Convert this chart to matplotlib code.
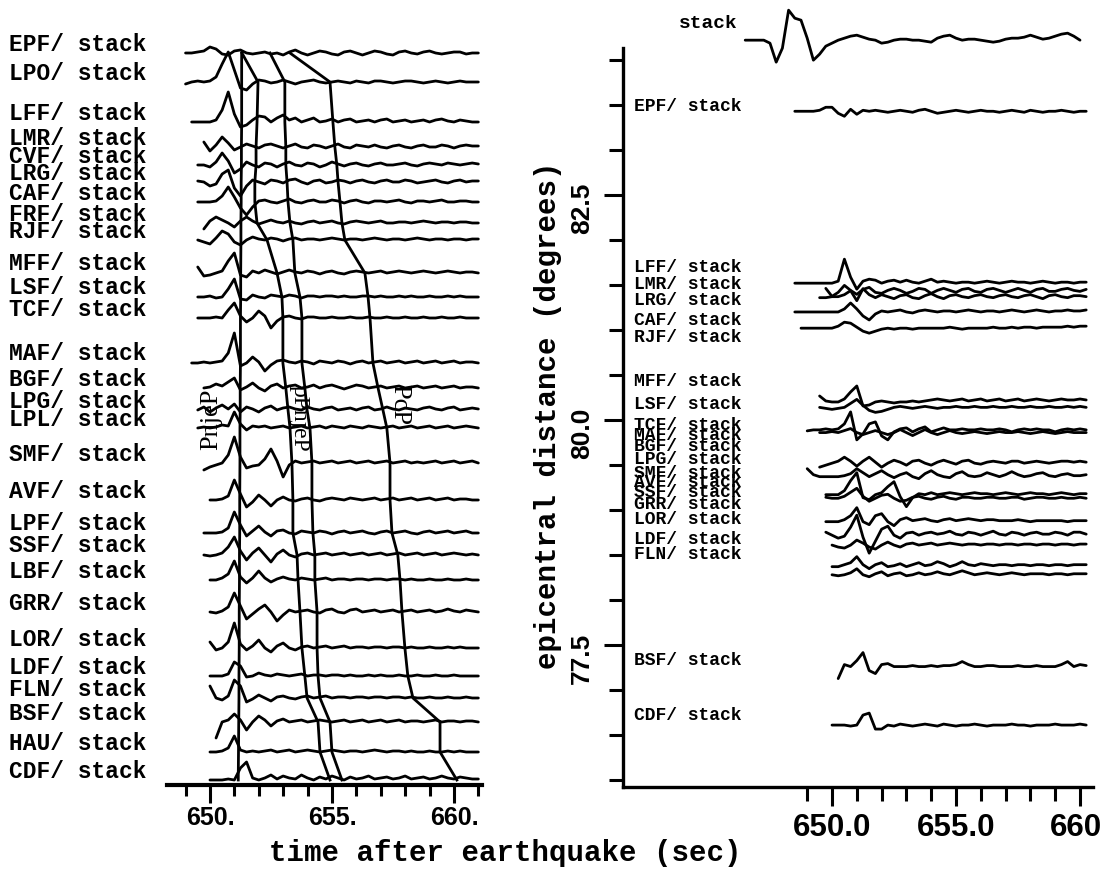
import numpy as np
import matplotlib
matplotlib.use("Agg")
import matplotlib.pyplot as plt
from matplotlib.ticker import FixedLocator
from matplotlib import transforms

DT = 0.25

# ---------------- LEFT PANEL (record section, one trace per station) ----------
left_stations = ["EPF", "LPO", "LFF", "LMR", "CVF", "LRG", "CAF", "FRF", "RJF",
                 "MFF", "LSF", "TCF", "MAF", "BGF", "LPG", "LPL", "SMF", "AVF",
                 "LPF", "SSF", "LBF", "GRR", "LOR", "LDF", "FLN", "BSF", "HAU", "CDF"]
# trace rows (vertical offset of each trace, top = small)
left_offset = [53, 82, 122, 147, 165, 182, 202, 223, 240, 273, 297, 318, 363, 388,
               410, 428, 463, 500, 533, 555, 580, 612, 648, 676, 698, 722, 752, 780]
# start time of each trace (s)
left_t0 = [649.0, 649.0, 649.25, 649.75, 649.5, 649.5, 649.5, 649.75, 649.5, 649.5,
           649.5, 649.5, 649.25, 649.75, 649.5, 649.5, 649.75, 650.0, 649.75, 649.75,
           650.0, 650.0, 650.0, 650.0, 650.0, 650.25, 650.0, 650.0]

L_EPF = [0, 0, 1, 2, 6, 4, -1, -2, 2, 3, 0, -1, 0, 1, -1, 0, -2, 1, 3, 0, -2, 0, 2, 1,
         -1, -2, 1, 2, 0, -2, 0, 2, 1, -1, -2, 1, 2, 0, -1, 1, 2, 0, -1, 0, 1, 1, -1, 0, 0]
L_LPO = [-2, 0, 1, 0, 1, 5, 18, 30, 12, -6, -8, -2, 2, 1, -1, 0, 2, 0, -2, 0, 1, 2, 0, -1,
         0, 1, 0, -1, 1, 0, -1, 1, 1, 0, -1, 0, 1, 1, 0, -1, 0, 1, 0, -1, 0, 1, 0, 0, 0]
L_LFF = [0, 0, 0, 0, 2, 12, 30, 8, -5, -3, 2, 6, 5, 0, 4, 7, 2, 4, 0, 2, 4, 0, 1,
         3, 0, 2, 3, 0, 1, 2, 0, 2, 3, 0, 1, 2, 0, 1, 2, 0, 2, 3, 1, 0, 2, 1, 0, 0]
L_LMR = [5, -4, 2, 10, 4, -3, 0, 3, 1, -1, 2, 3, 1, -1, 1, 3, 0, -1, 2, 1, -1, 1, 3, 0,
         -1, 2, 1, 0, 2, 0, -1, 1, 2, 0, -1, 1, 2, 0, 0, 2, 1, -1, 1, 2, 1, 1]
L_CVF = [0, 0, -2, 3, 12, 4, -8, -4, 3, 0, -2, 2, 1, -2, 1, 3, 0, -1, 2, 1, -2, 0, 3, 1,
         -1, 1, 2, 0, -1, 1, 2, 0, 0, 1, 2, 0, -1, 1, 2, 1, 0, 2, 1, 0, 1, 2, 1]
L_LRG = [1, 0, -4, -2, 8, 12, -6, -14, -4, 2, 0, -2, 2, 1, -1, 2, 3, 0, -2, 1, 2, -1, 0, 2,
         1, -1, 1, 2, 0, -1, 1, 2, 0, 0, 2, 1, -1, 0, 1, 2, 0, -1, 1, 2, 0, 1, 1]
L_CAF = [0, 0, 0, 1, 6, 15, 5, -6, -13, -5, 1, 2, 0, -1, 1, 3, 0, -1, 1, 2, 0, 0, 2, 1,
         -1, 1, 2, 0, -1, 1, 1, 0, 1, 2, 0, -1, 1, 1, 0, 1, 2, 0, 0, 1, 1, 0, 0]
L_FRF = [-6, 2, 6, 3, 0, -4, 2, 6, 2, -1, 1, 3, 1, 0, 2, 0, -1, 1, 2, 0, 1, 2, 0, -1, 1,
         2, 1, 0, 1, 2, 0, 0, 1, 1, 0, 1, 2, 1, 0, 1, 1, 0, 1, 1, 0, 0]
L_RJF = [0, -2, -4, 2, 9, 6, -2, -5, 0, 3, 1, 0, 2, 1, -1, 1, 2, 0, 1, 1, 0, 1, 2, 1, 0,
         1, 1, 0, 1, 2, 1, 0, 1, 1, 0, 1, 2, 1, 0, 1, 1, 0, 1, 1, 0, 1, 1]
L_MFF = [6, -3, -2, 0, 2, 12, 20, -2, -4, 2, 0, 3, 1, -1, 1, 3, 1, 0, 2, 1, -1, 1, 2, 0,
         -1, 1, 2, 1, 0, 1, 2, 0, 1, 2, 1, 0, 1, 2, 1, 0, 1, 2, 1, 0, 1, 1, 0]
L_LSF = [0, 0, 1, -1, 0, 8, 18, -2, -3, 2, 0, -1, 2, 1, 0, 2, 1, -1, 1, 1, 0, 1, 1, 0,
         1, 0, 0, 1, 1, 0, 1, 0, 0, 1, 0, 1, 0, 0, 1, 0, 0, 1, 0, 1, 0, 0, 0]
L_TCF = [0, 0, 0, 1, 0, 8, 15, 2, -4, 0, 7, 2, -10, -3, 1, 2, 0, -1, 1, 1, 0, 0, 1, 0,
         0, 1, 0, 0, 1, 0, 0, 1, 0, 0, 1, 0, 0, 1, 0, 0, 1, 0, 0, 1, 0, 0, 0]
L_MAF = [0, 0, 1, 0, 1, 2, 10, 30, -3, 0, 6, 1, -8, -2, 2, 3, 1, 0, 2, 1, -1, 2, 1, 0,
         2, 1, -1, 1, 2, 0, 1, 2, 0, 1, 2, 0, 1, 2, 0, 1, 2, 0, 1, 2, 0, 1, 1, 0]
L_BGF = [0, 1, 4, 2, 6, 10, -2, 1, 5, 0, -3, 2, 4, 0, 2, 3, 0, 1, 3, 0, 2, 3, 1, -1, 1,
         3, 2, 0, 1, 2, 0, 1, 2, 0, 1, 2, 0, 1, 2, 0, 1, 2, 0, 1, 1, 0]
L_LPG = [0, 3, -2, 2, 5, 1, 6, -2, 3, 1, -2, 2, 4, 0, 2, 3, 1, 0, 3, 1, 0, 2, 3, 0, 1,
         2, 0, 2, 3, 0, 1, 3, 1, 0, 2, 1, 0, 2, 3, 1, 0, 2, 3, 0, 1, 2, 1]
L_LPL = [0, 1, 0, 1, 3, 2, 16, 4, -2, 2, 1, 2, 0, 1, 2, 0, 1, 2, 0, 1, 2, 0, 2, 1, 0, 2,
         1, 0, 2, 1, 0, 1, 2, 0, 1, 2, 0, 1, 2, 0, 1, 2, 0, 1, 2, 1, 0]
L_SMF = [-7, -4, -2, 0, 8, 26, 6, -5, -3, -2, 4, 14, 2, -14, -2, 2, 0, 1, 2, 0, 1, 2, 0,
         1, 2, 0, 1, 2, 0, 1, 2, 0, 1, 2, 0, 1, 0, 1, 2, 0, 1, 2, 0, 1, 2, 0]
L_AVF = [0, 0, 1, 4, 20, 6, -7, -2, 5, 0, -6, 0, 3, 0, -1, 1, 2, 0, -1, 1, 2, 1, 0, 2,
         1, 0, 1, 2, 0, 1, 2, 0, 1, 2, 0, 1, 2, 0, 1, 2, 0, 1, 1, 0, 0]
L_LPF = [0, 0, 0, 1, 5, 21, 8, -3, 2, 7, 1, -3, 2, 3, 0, -1, 2, 1, 0, 2, 1, -1, 1, 2, 0,
         1, 2, 0, -1, 1, 2, 0, 1, 2, 0, -1, 1, 2, 0, 1, 2, 0, 1, 2, 0, 0]
L_SSF = [0, -1, 0, 2, 8, 18, 4, -5, 2, 7, 0, -7, 1, 5, 0, -2, 1, 2, 0, 1, 2, 0, 1, 2, 0,
         1, 2, 0, 1, 2, 0, 1, 2, 0, 1, 2, 0, 1, 2, 0, 1, 2, 1, 0, 1, 0]
L_LBF = [0, 0, 2, 6, 19, 3, -3, 2, 9, 2, -2, 1, 3, 1, 0, 2, 1, 0, 1, 2, 0, 1, 1, 0, 1,
         1, 0, 1, 1, 0, 1, 1, 0, 1, 0, 0, 1, 0, 0, 1, 0, 0, 1, 0, 0]
L_GRR = [0, -1, 1, 5, 19, 6, -7, -2, 3, 7, 0, -9, -3, 2, 0, 1, 2, 0, -1, 2, 3, 0, -1, 2,
         3, 0, 1, 2, 0, 1, 2, 0, 1, 2, 0, 1, 2, 0, 1, 3, 1, 0, 2, 1, 0]
L_LOR = [6, -2, 0, 6, 25, 4, -2, 2, 8, 0, -4, 2, 5, 0, -2, 1, 2, 0, 1, 2, 0, 1, 2, 0, 1,
         1, 0, 1, 1, 0, 1, 1, 0, 1, 0, 0, 1, 0, 0, 1, 0, 1, 0, 0, 0]
L_LDF = [0, 0, 0, 2, 14, 10, -1, 0, 3, 1, 0, 2, 1, 0, 1, 2, 0, 1, 1, 0, 1, 1, 0, 1, 0,
         0, 1, 0, 1, 0, 0, 1, 0, 0, 1, 0, 0, 1, 0, 0, 1, 0, 0, 0, 0]
L_FLN = [12, 0, -2, 2, 18, 12, -4, -1, 3, 0, -3, 1, 2, 0, -1, 1, 2, 0, 1, 2, 0, 1, 1, 0,
         1, 1, 0, 1, 1, 0, 1, 1, 0, 1, 0, 0, 1, 0, 0, 1, 0, 0, 1, 0, 0]
L_BSF = [-16, 0, 2, 8, 2, -8, 0, 6, 2, -4, 1, 3, 0, 1, 2, 0, 1, 2, 1, 0, 1, 2, 0, 1, 2,
         0, 1, 2, 0, 1, 2, 0, 1, 1, 0, 1, 2, 0, 1, 1, 0, 1, 1, 0]
L_HAU = [0, 0, 1, 4, 16, 2, 0, 1, 0, 1, 2, 0, 1, 2, 0, 1, 2, 1, 0, 1, 2, 1, 0, 1, 1, 0,
         1, 2, 1, 0, 1, 1, 0, 1, 0, 0, 1, 0, 0, 1, 0, 1, 0, 0, 0]
L_CDF = [0, 0, 0, 1, 0, 12, 18, 2, 0, 2, 5, 1, 4, 2, 1, 5, 2, 0, 3, 1, 4, 2, 0, 3, 1,
         2, 4, 1, 2, 3, 1, 2, 4, 1, 2, 3, 1, 2, 4, 2, 1, 3, 2, 1, 1]

# picked arrival-time curves (s) at each station row
phase_1 = [651.30, 651.30, 651.30, 651.29, 651.29, 651.28, 651.28, 651.27, 651.27, 651.26,
           651.26, 651.25, 651.25, 651.24, 651.24, 651.23, 651.23, 651.22, 651.22, 651.21,
           651.21, 651.20, 651.20, 651.19, 651.19, 651.18, 651.17, 651.16]
phase_2 = [651.31, 651.97, 651.93, 651.89, 651.89, 651.84, 651.84, 651.93, 652.34, 652.75,
           652.95, 652.99, 652.99, 653.11, 653.20, 653.28, 653.36, 653.40, 653.40, 653.57,
           653.61, 653.69, 653.77, 653.89, 653.98, 654.43, 654.51, 654.92]
phase_3 = [652.46, 653.07, 653.07, 653.11, 653.11, 653.16, 653.20, 653.28, 653.40, 653.48,
           653.69, 653.77, 653.77, 653.89, 653.98, 654.10, 654.18, 654.18, 654.22, 654.30,
           654.30, 654.39, 654.39, 654.43, 654.51, 654.92, 655.00, 655.41]
phase_4 = [653.28, 654.92, 655.04, 655.12, 655.20, 655.25, 655.33, 655.41, 655.53, 656.35,
           656.48, 656.56, 656.68, 656.89, 657.09, 657.25, 657.38, 657.38, 657.46, 657.70,
           657.79, 657.87, 657.99, 658.11, 658.32, 659.43, 659.43, 660.12]

# ---------------- RIGHT PANEL (traces plotted at epicentral distance) ---------
right_stations = ["stack", "EPF", "LFF", "LMR", "LRG", "CAF", "RJF", "MFF", "LSF", "TCF",
                  "MAF", "BGF", "LPG", "SMF", "AVF", "SSF", "GRR", "LOR", "LDF", "FLN",
                  "BSF", "CDF"]
right_dist = [84.22, 83.43, 81.52, 81.44, 81.37, 81.20, 81.02, 80.20, 80.14, 79.89,
              79.86, 79.52, 79.37, 79.17, 79.13, 78.87, 78.72, 78.61, 78.37, 78.28,
              77.26, 76.61]
right_t0 = [646.5, 648.5, 648.5, 649.75, 649.5, 648.5, 648.75, 649.5, 649.5, 649.0,
            649.5, 649.5, 649.0, 649.75, 649.75, 649.75, 649.75, 650.0, 650.0, 650.0,
            650.25, 650.0]

R_stack = [0, 0, 0, 0, -3, -22, -8, 30, 22, 20, 2, -20, -14, -6, -3, 0, 2, 4, 5, 3, 1, 0,
           -3, -2, 0, 1, 1, 0, 0, -1, -2, 2, 4, 5, 2, 0, 1, 1, 0, -1, -2, -1, 1, 2, 2, 3,
           5, 3, 1, 2, 4, 6, 7, 4, 0]
R_EPF = [0, 0, 0, 0, 1, 4, 4, -2, -5, 2, -3, 1, 0, 1, 0, -1, 0, 1, 0, -1, 1, 2, 0, -2,
         -1, 0, 1, 0, -1, 0, 1, 0, 0, -1, 0, 1, 0, -1, 1, 0, -1, 0, 0, 1, 0, -1, 0, 0]
R_LFF = [0, 0, 0, 0, 0, 0, 0, 2, 24, 6, -6, 2, 4, 3, 0, 2, 3, 1, 3, 1, 0, 2, 4, 1, 2, 1,
         0, 1, 1, 0, 1, 2, 1, 0, 1, 2, 1, 1, 0, 1, 2, 1, 0, 1, 1, 0, 1, 1]
R_LMR = [2, -6, -2, 5, 0, -4, 1, 3, -2, -3, 0, 2, 0, -3, -1, 2, 1, -3, 0, 2, 0, -2, 1,
         2, -1, -2, 1, 2, 0, -2, 0, 2, 0, -2, 1, 2, -1, -1, 1, 2, 0, -1, 1]
R_LRG = [-1, -1, 0, 0, 2, 6, -4, 8, 2, -1, 2, 0, -2, 1, 2, -1, -2, 1, 3, 0, -2, 1, 2, 0,
         -1, 1, 2, 0, -1, 1, 2, 0, -1, 1, 2, 0, -2, 1, 2, 0, -1, 1, 1, 0]
R_CAF = [0, 0, 0, 0, 0, 0, 0, 0, 3, 9, 3, -4, -8, -2, 1, 0, 1, 2, 0, -1, 1, 2, 1, 0, 1,
         1, 0, 1, 2, 1, 0, 1, 1, 0, 1, 2, 1, 0, 1, 2, 1, 0, 1, 1, 2, 1, 1, 2]
R_RJF = [0, 0, 0, 0, 0, 0, 2, 6, 5, 1, -3, -5, -3, -1, 0, -1, 0, 0, -1, 0, 0, 0, 0, 0,
         1, 0, -1, 0, 0, 0, 0, 1, 0, 0, 1, 0, 1, 1, 0, 1, 1, 1, 1, 2, 1, 2, 2]
R_MFF = [6, 1, 0, 0, 3, 10, 16, -4, -3, 0, 1, 0, -1, 0, 0, 1, 0, 1, 2, 3, 2, 1, 2, 3, 1,
         2, 3, 1, 2, 3, 1, 2, 3, 1, 2, 3, 2, 1, 2, 3, 2, 2, 3, 2]
R_LSF = [0, -1, -2, -1, 0, 4, 8, 2, -3, -5, -4, -2, 0, 1, 0, -1, 0, 1, 0, -1, 0, 0, 1,
         0, 0, 1, 0, 0, 1, 0, 0, 1, 0, 0, 1, 0, 0, 1, 0, 0, 1, 0, 1, 0]
R_TCF = [-1, 0, 0, 1, 0, 1, 6, 18, -10, -4, 6, 8, -6, -10, -2, 1, 2, -2, 1, 3, -2, 0, 2,
         0, 0, 1, 0, 0, 1, 0, 0, 1, 0, -2, 0, 1, 0, 1, 0, 0, -2, 0, 1, 0, 1, 0]
R_MAF = [0, 0, 1, 0, 2, 4, 0, -2, 0, 2, 0, -2, 0, 3, 0, -3, 0, 3, 0, -2, 0, 2, 0, -1, 0,
         1, 0, -1, 0, 1, 0, 0, 1, 0, -1, 0, 1, 0, -1, 0, 1, 0, 0, 0]
R_BGF = [-4, -2, 0, 2, 6, 2, -3, 2, 6, 1, -4, 0, 3, 1, -2, 2, 3, 0, -2, 1, 3, 1, -1, 2,
         3, 0, -1, 1, 2, 1, 0, 2, 2, 0, 1, 2, 1, 0, 1, 2, 2, 1, 2, 1]
R_LPG = [8, 2, 0, 0, 0, 0, 1, 3, 8, 4, 0, 3, 6, 2, -1, 2, 4, 0, -2, 3, 6, 2, 0, -1, 3,
         5, 1, 0, 1, 4, 2, 0, 2, 5, 2, 0, 1, 3, 4, 1, 0, 2, 3, 1, 1, 2]
R_SMF = [0, 0, 0, 4, 14, 22, -3, -5, 0, 2, 8, 13, -2, -12, -3, 1, 0, 2, 0, 1, 2, 1, 0, 1,
         2, 1, 1, 0, 1, 2, 1, 0, 1, 2, 1, 1, 0, 1, 2, 1, 0, 1, 1]
R_AVF = [1, 0, 0, 2, 6, 10, 2, -3, 0, 3, 4, 0, -3, -2, 1, 2, 0, -1, 1, 2, 0, -1, 1, 1,
         0, 0, 1, 1, 0, 0, 1, 1, -1, 0, 1, 1, 0, 0, 1, 0, 0, 1, 0]
R_SSF = [0, 0, 0, 2, 6, 14, 0, -3, 6, 8, 0, -4, 2, 4, 1, 2, 3, 1, 0, 2, 3, 1, 2, 3, 2,
         1, 2, 2, 1, 1, 1, 2, 1, 0, 1, 1, 1, 1, 1, 0, 1, 1, 1]
R_GRR = [3, 0, -3, -1, 8, 20, -2, -18, -6, 6, 9, 0, -3, 2, 3, 0, 2, 3, 1, 2, 4, 1, 0, 3,
         2, 0, 2, 4, 1, 0, 3, 2, 0, 2, 3, 1, 1, 3, 2, 0, 3, 3, 1]
R_LOR = [0, -2, -3, 0, 5, 2, -2, -4, 0, 3, 0, -2, 1, 2, 0, 1, 2, 0, 1, 2, 1, 0, 1, 1, 0,
         1, 1, 0, 1, 1, 0, 1, 1, 0, 1, 1, 0, 1, 1, 0, 1, 1]
R_LDF = [0, 0, 2, 4, 10, 2, -2, 2, 4, 0, 1, 3, 0, 2, 4, 1, 2, 5, 3, 0, 2, 5, 2, 1, 3, 2,
         1, 2, 2, 1, 2, 2, 1, 2, 2, 1, 2, 2, 1, 2, 2, 2]
R_FLN = [0, -1, 0, 2, 6, 0, -2, 1, 3, -1, 1, 2, -1, 0, 2, 0, 1, 3, 1, 0, 2, 4, 2, 0, 1,
         2, 1, 0, 1, 2, 1, 0, 1, 1, 1, 0, 1, 1, 0, 1, 1, 1]
R_BSF = [-12, 2, 0, 6, 14, -4, -7, 2, 3, 0, 0, 0, 1, 0, 0, 1, 0, 1, 1, 2, 5, 2, 0, 0, 1,
         1, 0, 0, 0, 1, 0, 0, 1, 0, 0, 0, 2, 5, 0, 2, 1]
R_CDF = [0, 0, 0, -1, 0, 10, 12, -4, -4, 0, -1, 1, 0, -1, 0, 1, 0, -1, 1, 0, -1, 0, 0,
         1, 0, -1, 0, 0, 0, 1, 0, 0, -1, 0, 0, 0, 1, 0, 0, 0, 1, 0]

# label positions of the station names on the right panel (degrees)
right_label_pos = [None, 83.48, 81.69, 81.50, 81.33, 81.10, 80.92, 80.43, 80.17, 79.94,
                   79.83, 79.70, 79.56, 79.41, 79.30, 79.19, 79.06, 78.89, 78.67, 78.50,
                   77.33, 76.72]

left_amps = {s: globals()["L_" + s] for s in left_stations}
right_amps = {s: globals()["R_" + s] for s in right_stations}

# ------------------------------------------------------------------------------
W, H = 1101, 886
fig = plt.figure(figsize=(W / 100, H / 100), dpi=100)

LAB = dict(family=["Liberation Mono", "DejaVu Sans Mono"], weight="bold")
TICKF = ["Liberation Sans", "DejaVu Sans"]
LW = 2.0

def px_axes(x0, y0, x1, y1):
    return fig.add_axes([x0 / W, 1 - y1 / H, (x1 - x0) / W, (y1 - y0) / H])

# ---------------- left axes ----------------
axL = px_axes(167, 15, 482, 785)
axL.set_xlim(648.24, 661.15)
axL.set_ylim(785, 15)
for sp in ["left", "right", "top"]:
    axL.spines[sp].set_visible(False)
axL.spines["bottom"].set_linewidth(3.0)
axL.set_yticks([])
axL.xaxis.set_major_locator(FixedLocator([650, 655, 660]))
axL.xaxis.set_minor_locator(FixedLocator(list(range(649, 662))))
axL.set_xticklabels(["650.", "655.", "660."])
axL.tick_params(axis="x", which="major", length=13, width=2.2, pad=2, direction="out")
axL.tick_params(axis="x", which="minor", length=8, width=2.2, direction="out")
for lab in axL.get_xticklabels():
    lab.set_fontfamily(TICKF)
    lab.set_fontweight("bold")
    lab.set_fontsize(18)

for i, s in enumerate(left_stations):
    a = np.asarray(left_amps[s], float)
    t = left_t0[i] + DT * np.arange(len(a))
    axL.plot(t, left_offset[i] - a, color="black", lw=LW, solid_joinstyle="round",
             solid_capstyle="round", clip_on=False)

for ph in (phase_1, phase_2, phase_3, phase_4):
    axL.plot(ph, left_offset, color="black", lw=LW, solid_joinstyle="round", clip_on=False)

trL = transforms.blended_transform_factory(fig.transFigure, axL.transData)
for i, s in enumerate(left_stations):
    axL.text(9 / W, left_offset[i] - 9, s + "/ stack", transform=trL, ha="left",
             va="center", fontsize=16.5, clip_on=False, **LAB)

# phase annotations (rotated)
PHF = dict(family=["Liberation Serif", "DejaVu Serif"], color="black")
axL.text(650.05, 419, "PnjeP", rotation=90, ha="center", va="center", fontsize=19, **PHF)
axL.text(653.65, 418, "pPnjeP", rotation=-90, ha="center", va="center", fontsize=17, **PHF)
axL.text(657.75, 404, "PcP", rotation=-90, ha="center", va="center", fontsize=19, **PHF)

# ---------------- right axes ----------------
axR = px_axes(623, 48, 1093, 787)
axR.set_xlim(641.573, 660.524)
axR.set_ylim(75.922, 84.133)
for sp in ["right", "top"]:
    axR.spines[sp].set_visible(False)
axR.spines["bottom"].set_linewidth(2.4)
axR.spines["left"].set_linewidth(2.4)
axR.xaxis.set_major_locator(FixedLocator([650, 655, 660]))
axR.xaxis.set_minor_locator(FixedLocator(list(range(649, 661))))
axR.set_xticklabels(["650.0", "655.0", "660."])
axR.tick_params(axis="x", which="major", length=14, width=2.2, pad=5, direction="out")
axR.tick_params(axis="x", which="minor", length=10, width=2.2, direction="out")
for lab in axR.get_xticklabels():
    lab.set_fontfamily(TICKF)
    lab.set_fontweight("bold")
    lab.set_fontsize(22.5)

axR.yaxis.set_major_locator(FixedLocator([77.5, 80.0, 82.5]))
axR.yaxis.set_minor_locator(FixedLocator(list(np.arange(76.0, 84.01, 0.5))))
axR.set_yticklabels(["77.5", "80.0", "82.5"])
axR.tick_params(axis="y", which="major", length=14, width=2.2, pad=7, direction="out")
axR.tick_params(axis="y", which="minor", length=10, width=2.2, direction="out")
off = transforms.ScaledTranslation(0, -13 / 100, fig.dpi_scale_trans)
for lab in axR.get_yticklabels():
    lab.set_rotation(90)
    lab.set_fontfamily(TICKF)
    lab.set_fontweight("bold")
    lab.set_fontsize(19)
    lab.set_va("center")
    lab.set_transform(lab.get_transform() + off)

AMP_R = 1 / 90.0  # degrees per amplitude unit
for i, s in enumerate(right_stations):
    a = np.asarray(right_amps[s], float)
    t = right_t0[i] + DT * np.arange(len(a))
    axR.plot(t, right_dist[i] + a * AMP_R, color="black", lw=LW, solid_joinstyle="round",
             solid_capstyle="round", clip_on=False)

for i, s in enumerate(right_stations):
    if right_label_pos[i] is None:
        continue
    axR.text(642.0, right_label_pos[i], s + "/ stack", ha="left", va="center",
             fontsize=13, clip_on=False, **LAB)
axR.text(645.0, 84.41, "stack", ha="center", va="center", fontsize=14, clip_on=False, **LAB)

# axis titles
AXF = dict(family=["Liberation Mono", "DejaVu Sans Mono"], fontsize=21, weight="bold")
fig.text(505 / W, 1 - 853 / H, "time after earthquake (sec)", ha="center", va="center", **AXF)
fig.text(548 / W, 1 - 415 / H, "epicentral distance (degrees)", rotation=90,
         ha="center", va="center", **AXF)

fig.savefig("out.png", dpi=100)
